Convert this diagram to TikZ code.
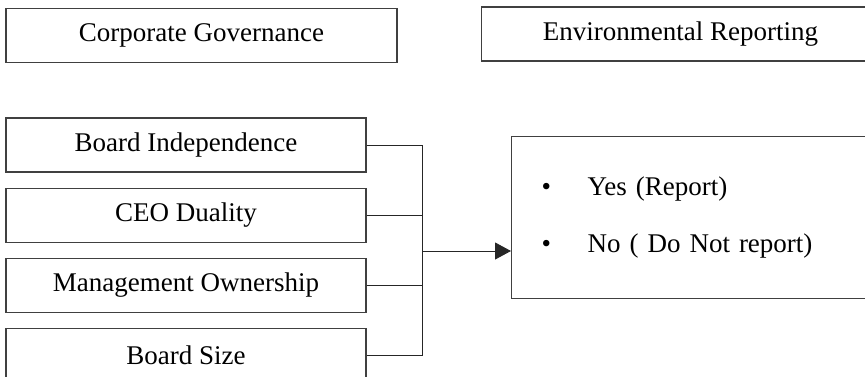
\documentclass[tikz,border=0pt]{standalone}
\usepackage{fontspec}
\setmainfont{Liberation Serif}
\usetikzlibrary{arrows.meta, positioning}

\begin{document}
\begin{tikzpicture}[x=1pt, y=-1pt,
    node distance=15pt,
    box/.style={draw=black!75, line width=1.1pt, font=\fontsize{27}{32}\selectfont, minimum height=54pt, inner sep=0pt},
    factor/.style={box, minimum width=360pt},
    link/.style={line width=1pt, black!85},
    arr/.style={link, -{Triangle[length=16pt, width=17pt]}}]
  \useasboundingbox (0,0) rectangle (865,376);
  \clip (0,0) rectangle (865,376);
  \node[box, minimum width=391pt] (cg) at (201.5,35.5) {Corporate Governance};
  \node[box, minimum width=398pt, anchor=west] (er) at (481,34) {Environmental Reporting};
  \node[factor] (bi) at (186,145) {Board Independence};
  \node[factor, below=of bi] (ceo) {CEO Duality};
  \node[factor, below=of ceo] (mo) {Management Ownership};
  \node[factor, below=of mo] (bs) {Board Size};
  \node[box, anchor=north west, minimum width=380pt, minimum height=162pt, inner xsep=30pt, text width=320pt, align=left] (res) at (511,136)
    {\makebox[46pt][l]{\textbullet}Yes (Report)\\[25pt]\makebox[46pt][l]{\textbullet}No ( Do Not report)};
  \coordinate (hub) at (422,251);
  \draw[link] (bi.east) -- (bi.east -| hub) -- (bs.east -| hub) -- (bs.east);
  \draw[link] (ceo.east) -- (ceo.east -| hub);
  \draw[link] (mo.east) -- (mo.east -| hub);
  \draw[arr] (hub) -- (hub -| res.west);
\end{tikzpicture}
\end{document}
